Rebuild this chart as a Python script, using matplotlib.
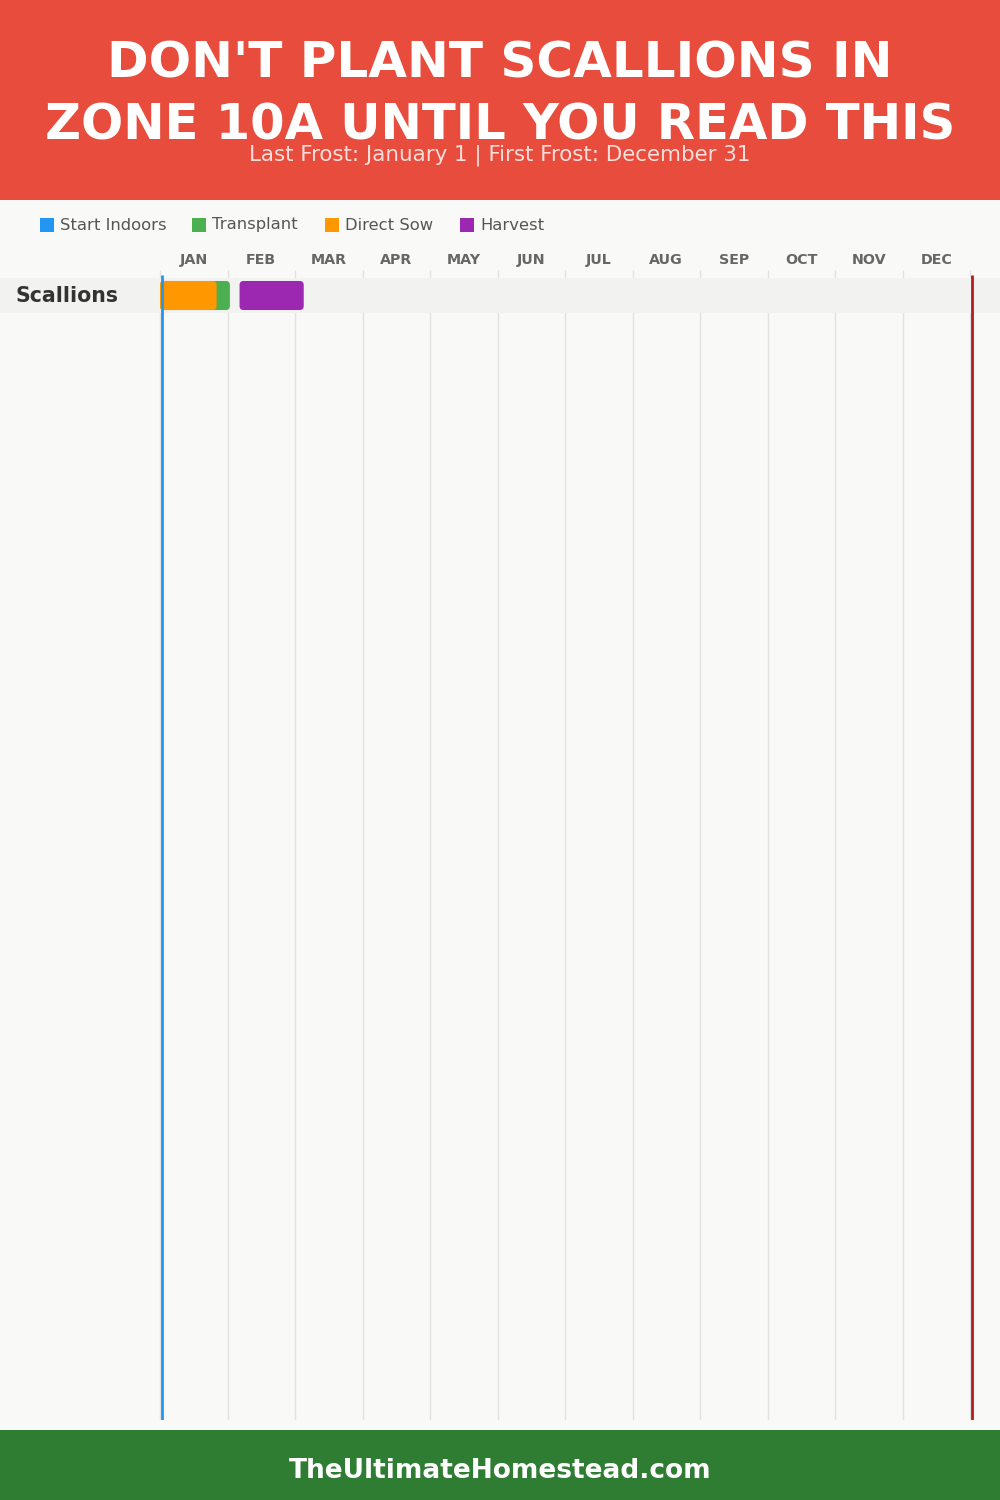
import matplotlib
matplotlib.use("Agg")
import matplotlib.pyplot as plt
from matplotlib.patches import Rectangle, FancyBboxPatch

# chart data
title_lines = ["DON'T PLANT SCALLIONS IN", "ZONE 10A UNTIL YOU READ THIS"]
subtitle = "Last Frost: January 1 | First Frost: December 31"
footer = "TheUltimateHomestead.com"

months = ["JAN", "FEB", "MAR", "APR", "MAY", "JUN",
          "JUL", "AUG", "SEP", "OCT", "NOV", "DEC"]
days_in_month = [31, 28, 31, 30, 31, 30, 31, 31, 30, 31, 30, 31]

crops = ["Scallions"]
legend_names = ["Start Indoors", "Transplant", "Direct Sow", "Harvest"]
legend_colors = ["#2196F3", "#4CAF50", "#FF9800", "#9C27B0"]

# (crop index, activity, start (month, day), end (month, day))
activities = [
    (0, "Transplant", (1, 1), (2, 1)),
    (0, "Direct Sow", (1, 1), (1, 26)),
    (0, "Harvest", (2, 6), (3, 4)),
]
last_frost = (1, 1)
first_frost = (12, 31)

HEADER = "#E74C3C"
FOOTER = "#2E7D32"
BG = "#F9F9F7"


def pos_start(md):
    m, d = md
    return (m - 1) + (d - 1) / days_in_month[m - 1]


def pos_end(md):
    m, d = md
    return (m - 1) + d / days_in_month[m - 1]


W, H = 1000, 1500
fig = plt.figure(figsize=(W / 100, H / 100), dpi=100, facecolor=BG)
plt.rcParams['font.family'] = ['DejaVu Sans']

# header and footer bands
fig.patches.append(Rectangle((0, 1 - 200 / H), 1, 200 / H, transform=fig.transFigure,
                             facecolor=HEADER, edgecolor="none", zorder=0))
fig.patches.append(Rectangle((0, 0), 1, 70 / H, transform=fig.transFigure,
                             facecolor=FOOTER, edgecolor="none", zorder=0))

fig.text(0.5, 1 - 64 / H, title_lines[0], ha="center", va="center",
         fontsize=36, fontweight="heavy", color="white")
fig.text(0.5, 1 - 125 / H, title_lines[1], ha="center", va="center",
         fontsize=35.7, fontweight="heavy", color="white")
fig.text(0.5, 1 - 155 / H, subtitle, ha="center", va="center",
         fontsize=15.4, color="white", alpha=0.82)
fig.text(0.5, 29 / H, footer, ha="center", va="center",
         fontsize=19, fontweight="bold", color="white")

# legend
legend_x = [40, 192, 325, 460]
for x, name, col in zip(legend_x, legend_names, legend_colors):
    fig.patches.append(Rectangle((x / W, 1 - 232 / H), 14 / W, 14 / H,
                                 transform=fig.transFigure, facecolor=col,
                                 edgecolor="none"))
    fig.text((x + 20) / W, 1 - 225 / H, name, ha="left", va="center",
             fontsize=11.8, color="#555555")

# chart axes: month units on x, rows on y
px_month = 67.5
x0 = 160
ax = fig.add_axes([0, 1 - 1420 / H, 1, (1420 - 270) / H])
ax.set_facecolor("none")
ax.set_xlim(-x0 / px_month, (W - x0) / px_month)
row_px = 35
ax.set_ylim((1420 - 295.5) / row_px, -25.5 / row_px)
for s in ax.spines.values():
    s.set_visible(False)
ax.set_yticks([])
ax.xaxis.tick_top()
ax.set_xticks([i + 0.5 for i in range(12)])
ax.set_xticklabels(months, fontsize=10.3, fontweight="bold", color="#666666")
ax.tick_params(axis="x", length=0, pad=2)

# month gridlines
ax.vlines(range(13), *ax.get_ylim(), color="#E2E2E2", lw=1, zorder=1)

# row bands
for i, crop in enumerate(crops):
    ax.axhspan(i - 0.5, i + 0.5, color="#F2F2F0", zorder=2, lw=0)
    ax.text(-x0 / px_month + 15 / px_month, i, crop, ha="left", va="center",
            fontsize=14.8, fontweight="bold", color="#333333")

# activity bars with rounded corners
color_of = dict(zip(legend_names, legend_colors))
bar_h = 0.83
r = 4 / px_month
aspect = (4 / row_px) / r
for row, act, s, e in activities:
    x_s, x_e = pos_start(s), pos_end(e)
    ax.add_patch(FancyBboxPatch((x_s, row - bar_h / 2), x_e - x_s, bar_h,
                                boxstyle="round,pad=0,rounding_size=%f" % r,
                                mutation_aspect=aspect, facecolor=color_of[act],
                                edgecolor="none", zorder=3))

# frost lines
yb, yt = ax.get_ylim()
ax.vlines(pos_end(last_frost), yb, yt + 5 / row_px, color="#2196F3", lw=2, zorder=4)
ax.vlines(pos_end(first_frost) + 0.03, yb, yt + 5 / row_px, color="#B71C1C",
          lw=2, zorder=4)

fig.savefig("out.png", dpi=100, facecolor=BG)
